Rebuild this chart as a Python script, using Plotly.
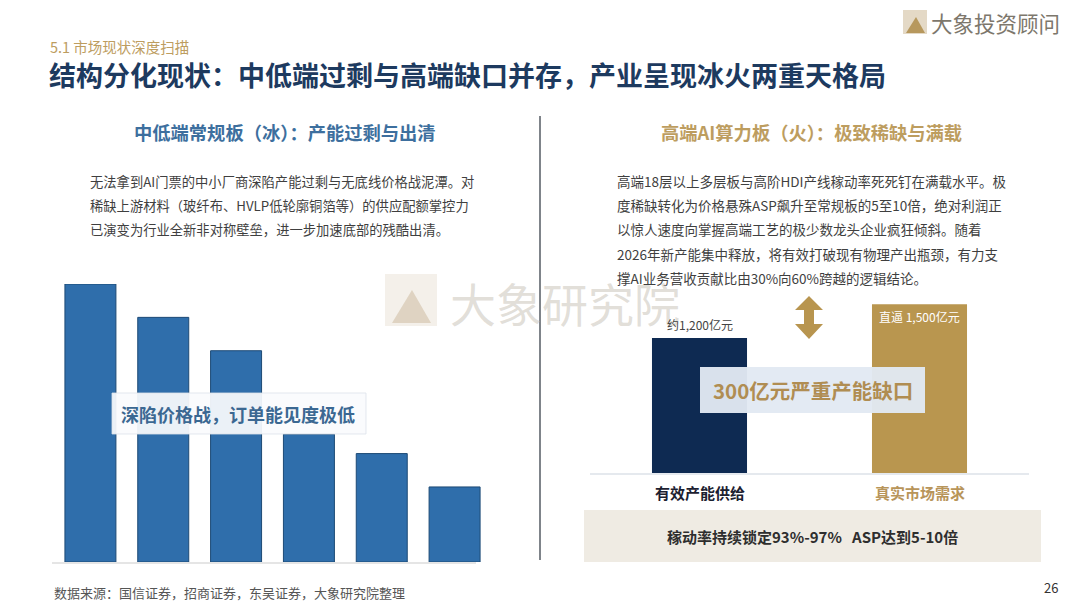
import plotly.graph_objects as go

W, H = 1080, 608

# ---------------- data ----------------
left_categories = ["1", "2", "3", "4", "5", "6"]
left_values = [100, 88, 76, 46, 39, 27]          # relative order backlog (index)
left_box_text = "深陷价格战，订单能见度极低"

right_categories = ["有效产能供给", "真实市场需求"]
right_values = [1200, 1500]                       # 亿元
right_value_labels = ["约1,200亿元", "直逼 1,500亿元"]
gap_text = "300亿元严重产能缺口"
band_text = "稼动率持续锁定93%-97%   ASP达到5-10倍"

section_label = "5.1 市场现状深度扫描"
main_title = "结构分化现状：中低端过剩与高端缺口并存，产业呈现冰火两重天格局"
left_title = "中低端常规板（冰）：产能过剩与出清"
right_title = "高端AI算力板（火）：极致稀缺与满载"
left_body = [
    "无法拿到AI门票的中小厂商深陷产能过剩与无底线价格战泥潭。对",
    "稀缺上游材料（玻纤布、HVLP低轮廓铜箔等）的供应配额掌控力",
    "已演变为行业全新非对称壁垒，进一步加速底部的残酷出清。",
]
right_body = [
    "高端18层以上多层板与高阶HDI产线稼动率死死钉在满载水平。极",
    "度稀缺转化为价格悬殊ASP飙升至常规板的5至10倍，绝对利润正",
    "以惊人速度向掌握高端工艺的极少数龙头企业疯狂倾斜。随着",
    "2026年新产能集中释放，将有效打破现有物理产出瓶颈，有力支",
    "撑AI业务营收贡献比由30%向60%跨越的逻辑结论。",
]
source_text = "数据来源：国信证券，招商证券，东吴证券，大象研究院整理"
page_no = "26"
brand = "大象投资顾问"
watermark = "大象研究院"

# ---------------- styles ----------------
FONT = "Noto Sans CJK SC"
NAVY_T = "#1d3a5f"
GOLD = "#bd9d5f"
BLUE = "#2f6eab"
BLUE_EDGE = "#1d4a75"
NAVY = "#0e2a52"
GOLD_BAR = "#b9964f"
TXT = "#3f3f3f"


def px(x):
    return x / W


def py(y):
    return 1 - y / H


fig = go.Figure()

fig.add_trace(go.Bar(
    x=left_categories, y=left_values, width=0.7,
    marker=dict(color=BLUE, line=dict(color=BLUE_EDGE, width=1)),
    xaxis="x", yaxis="y", hoverinfo="skip", showlegend=False,
))
fig.add_trace(go.Bar(
    x=right_categories, y=right_values, width=0.432,
    marker=dict(color=[NAVY, GOLD_BAR], line=dict(width=0)),
    xaxis="x2", yaxis="y2", hoverinfo="skip", showlegend=False,
))

shapes = []
annotations = []


def text(x, y, s, size, color, xanchor="left", bold=False, xref="paper", yref="paper", **kw):
    if bold:
        s = "<b>" + s + "</b>"
    annotations.append(dict(
        x=x, y=y, xref=xref, yref=yref, text=s, showarrow=False,
        xanchor=xanchor, yanchor=kw.pop("yanchor", "middle"),
        font=dict(family=FONT, size=size, color=color), **kw))


# header
text(px(48), py(47), section_label, 14.5, GOLD)
text(px(47), py(75), main_title, 27, NAVY_T, bold=True)

# brand logo top right
shapes.append(dict(type="rect", xref="paper", yref="paper",
                   x0=px(903), x1=px(927), y0=py(34), y1=py(10),
                   fillcolor="#e4d9c6", line=dict(width=0), layer="above"))
shapes.append(dict(type="path", xref="paper", yref="paper",
                   path=f"M {px(906)} {py(33)} L {px(916)} {py(17)} L {px(925)} {py(33)} Z",
                   fillcolor="#b7985d", line=dict(width=0), layer="above"))
text(px(929), py(22), brand, 21.5, "#7d776c")

# divider
shapes.append(dict(type="line", xref="paper", yref="paper",
                   x0=px(540), x1=px(540), y0=py(116), y1=py(560),
                   line=dict(color="#555b63", width=1.5)))

# panel titles
text(px(285), py(132), left_title, 18.3, "#3d6f9e", xanchor="center", bold=True)
text(px(811), py(132), right_title, 18.3, GOLD, xanchor="center", bold=True)

# body text
for i, line in enumerate(left_body):
    text(px(88), py(181 + i * 24), line, 13.3, TXT)
for i, line in enumerate(right_body):
    text(px(615), py(181 + i * 24.2), line, 13.5, TXT)

# watermark
shapes.append(dict(type="rect", xref="paper", yref="paper",
                   x0=px(385), x1=px(437), y0=py(326), y1=py(274),
                   fillcolor="rgba(236,230,220,0.6)", line=dict(width=0), layer="above"))
shapes.append(dict(type="path", xref="paper", yref="paper",
                   path=f"M {px(392)} {py(323)} L {px(412)} {py(290)} L {px(431)} {py(323)} Z",
                   fillcolor="rgba(205,188,160,0.55)", line=dict(width=0), layer="above"))
text(px(448), py(302), watermark, 46, "rgba(190,182,170,0.45)")

# left baseline and callout box
shapes.append(dict(type="line", xref="paper", yref="paper",
                   x0=px(52), x1=px(476), y0=py(563), y1=py(563),
                   line=dict(color="#dcdcdc", width=1.5)))
shapes.append(dict(type="rect", xref="paper", yref="paper",
                   x0=px(112), x1=px(366), y0=py(434), y1=py(393),
                   fillcolor="rgba(250,251,253,0.93)", line=dict(color="rgba(220,226,234,0.8)", width=1),
                   layer="above"))
text(px(119), py(414), left_box_text, 18, "#3b6892", bold=True)

# right baseline
shapes.append(dict(type="line", xref="paper", yref="paper",
                   x0=px(590), x1=px(1029), y0=py(474), y1=py(474),
                   line=dict(color="#dde2e8", width=1.5)))

# value labels on right bars
annotations.append(dict(x=right_categories[0], y=right_values[0], xref="x2", yref="y2",
                        text=right_value_labels[0], showarrow=False, yanchor="bottom", yshift=3,
                        font=dict(family=FONT, size=12, color="#444")))
annotations.append(dict(x=right_categories[1], y=right_values[1], xref="x2", yref="y2",
                        text=right_value_labels[1], showarrow=False, yanchor="top", yshift=-2,
                        font=dict(family=FONT, size=12, color="#ffffff")))

# category labels
cat_colors = ["#1c2030", "#b8955a"]
for c, col in zip(right_categories, cat_colors):
    annotations.append(dict(x=c, y=py(492), xref="x2", yref="paper", text="<b>" + c + "</b>",
                            showarrow=False, yanchor="middle",
                            font=dict(family=FONT, size=15, color=col)))

# double arrow
ax = 809
shapes.append(dict(type="path", xref="paper", yref="paper",
                   path=(f"M {px(ax)} {py(296)} L {px(ax+14)} {py(310)} L {px(ax+5)} {py(310)} "
                         f"L {px(ax+5)} {py(324)} L {px(ax+14)} {py(324)} L {px(ax)} {py(339)} "
                         f"L {px(ax-14)} {py(324)} L {px(ax-5)} {py(324)} L {px(ax-5)} {py(310)} "
                         f"L {px(ax-14)} {py(310)} Z"),
                   fillcolor="#b8954f", line=dict(width=0), layer="above"))

# gap box
shapes.append(dict(type="rect", xref="paper", yref="paper",
                   x0=px(700), x1=px(925), y0=py(413), y1=py(367),
                   fillcolor="rgba(226,233,242,0.96)", line=dict(width=0), layer="above"))
text(px(812.5), py(390), gap_text, 20.5, "#b08d52", xanchor="center", bold=True)

# bottom band
shapes.append(dict(type="rect", xref="paper", yref="paper",
                   x0=px(584), x1=px(1041), y0=py(562), y1=py(510),
                   fillcolor="#efebe3", line=dict(width=0), layer="below"))
text(px(812.5), py(536), band_text, 15, "#2e2e2e", xanchor="center", bold=True)

# footer
text(px(52), py(592), source_text, 13, "#555555")
text(px(1060), py(587), page_no, 13, "#333333", xanchor="right")

fig.update_layout(
    width=W, height=H,
    margin=dict(l=0, r=0, t=0, b=0),
    paper_bgcolor="white", plot_bgcolor="rgba(0,0,0,0)",
    xaxis=dict(domain=[px(54), px(491)], range=[-0.5, 5.5], visible=False, fixedrange=True),
    yaxis=dict(domain=[py(562), py(284)], range=[0, 100], visible=False, fixedrange=True),
    xaxis2=dict(domain=[px(589.5), px(1029.5)], range=[-0.5, 1.5], visible=False,
                anchor="y2", fixedrange=True),
    yaxis2=dict(domain=[py(473), py(293)], range=[0, 1600], visible=False,
                anchor="x2", fixedrange=True),
    shapes=shapes, annotations=annotations,
    hovermode=False, showlegend=False,
    font=dict(family=FONT),
)

fig.write_html("out.html", config={"displayModeBar": False},
               post_script="document.body.style.margin='0';document.body.style.overflow='hidden';")
